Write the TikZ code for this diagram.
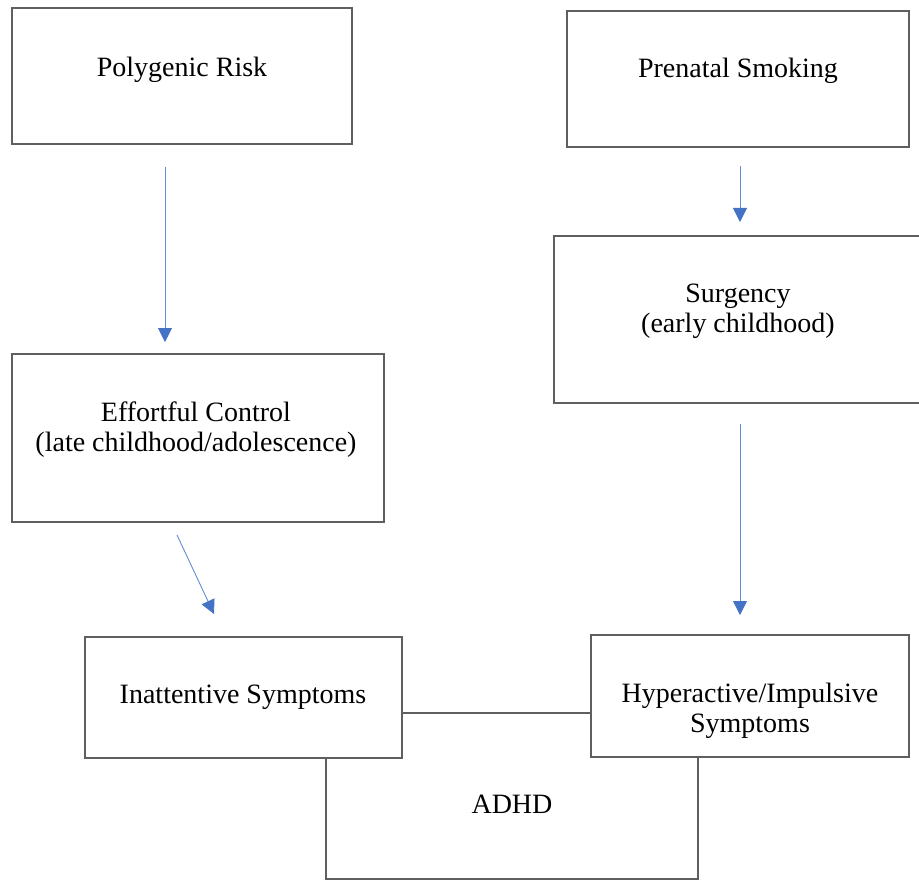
\documentclass[tikz,border=0pt]{standalone}
\usepackage{fontspec}
\setmainfont{Liberation Serif}
\usetikzlibrary{arrows.meta}
\definecolor{boxline}{RGB}{95,95,95}
\definecolor{arrblue}{RGB}{68,114,196}
\definecolor{arrline}{RGB}{100,140,215}
\tikzset{
  box/.style={draw=boxline, line width=1.2pt, fill=white, rectangle, inner sep=0pt},
  txt/.style={font=\fontsize{28}{30}\selectfont, align=center, inner sep=0pt, anchor=base},
  arr/.style={draw=arrline, line width=0.9pt, -{Triangle[length=14pt,width=14pt,color=arrblue]}}
}
\begin{document}
\begin{tikzpicture}[x=1pt,y=-1pt]
\useasboundingbox (0,0) rectangle (919,880);
\fill[white] (0,0) rectangle (919,880);
% ADHD box (behind symptom boxes; its top edge links them)
\node[box, minimum width=372pt, minimum height=166pt] (adhd) at (512,796) {};
\node[txt] (adhdt) at (512,813) {ADHD};
% top row
\node[box, minimum width=340pt, minimum height=136pt] (poly) at (182,76) {};
\node[txt] (polyt) at (182,77) {Polygenic Risk};
\node[box, minimum width=342pt, minimum height=136pt] (pren) at (738,79) {};
\node[txt] (prent) at (738,78) {Prenatal Smoking};
% middle row
\node[box, minimum width=371pt, minimum height=167pt] (surg) at (739.5,319.5) {};
\node[txt] (surgt) at (738,332) {Surgency\\(early childhood)};
\node[box, minimum width=372pt, minimum height=168pt] (eff) at (198,438) {};
\node[txt] (efft) at (196,451) {Effortful Control\\(late childhood/adolescence)};
% symptom boxes
\node[box, minimum width=317pt, minimum height=121pt] (inat) at (243.5,697.5) {};
\node[txt] (inatt) at (243,703) {Inattentive Symptoms};
\node[box, minimum width=318pt, minimum height=122pt] (hyp) at (750,696) {};
\node[txt] (hypt) at (750,732) {Hyperactive/Impulsive\\Symptoms};
% arrows
\coordinate (a1s) at (165,167);
\coordinate (a1e) at (165,342);
\coordinate (a2s) at (740,166);
\coordinate (a2e) at (740,222);
\coordinate (a3s) at (177,535);
\coordinate (a3e) at (214,614);
\coordinate (a4s) at (740,424);
\coordinate (a4e) at (740,615);
\draw[arr] (a1s) -- (a1e);
\draw[arr] (a2s) -- (a2e);
\draw[arr] (a3s) -- (a3e);
\draw[arr] (a4s) -- (a4e);
\end{tikzpicture}
\end{document}
